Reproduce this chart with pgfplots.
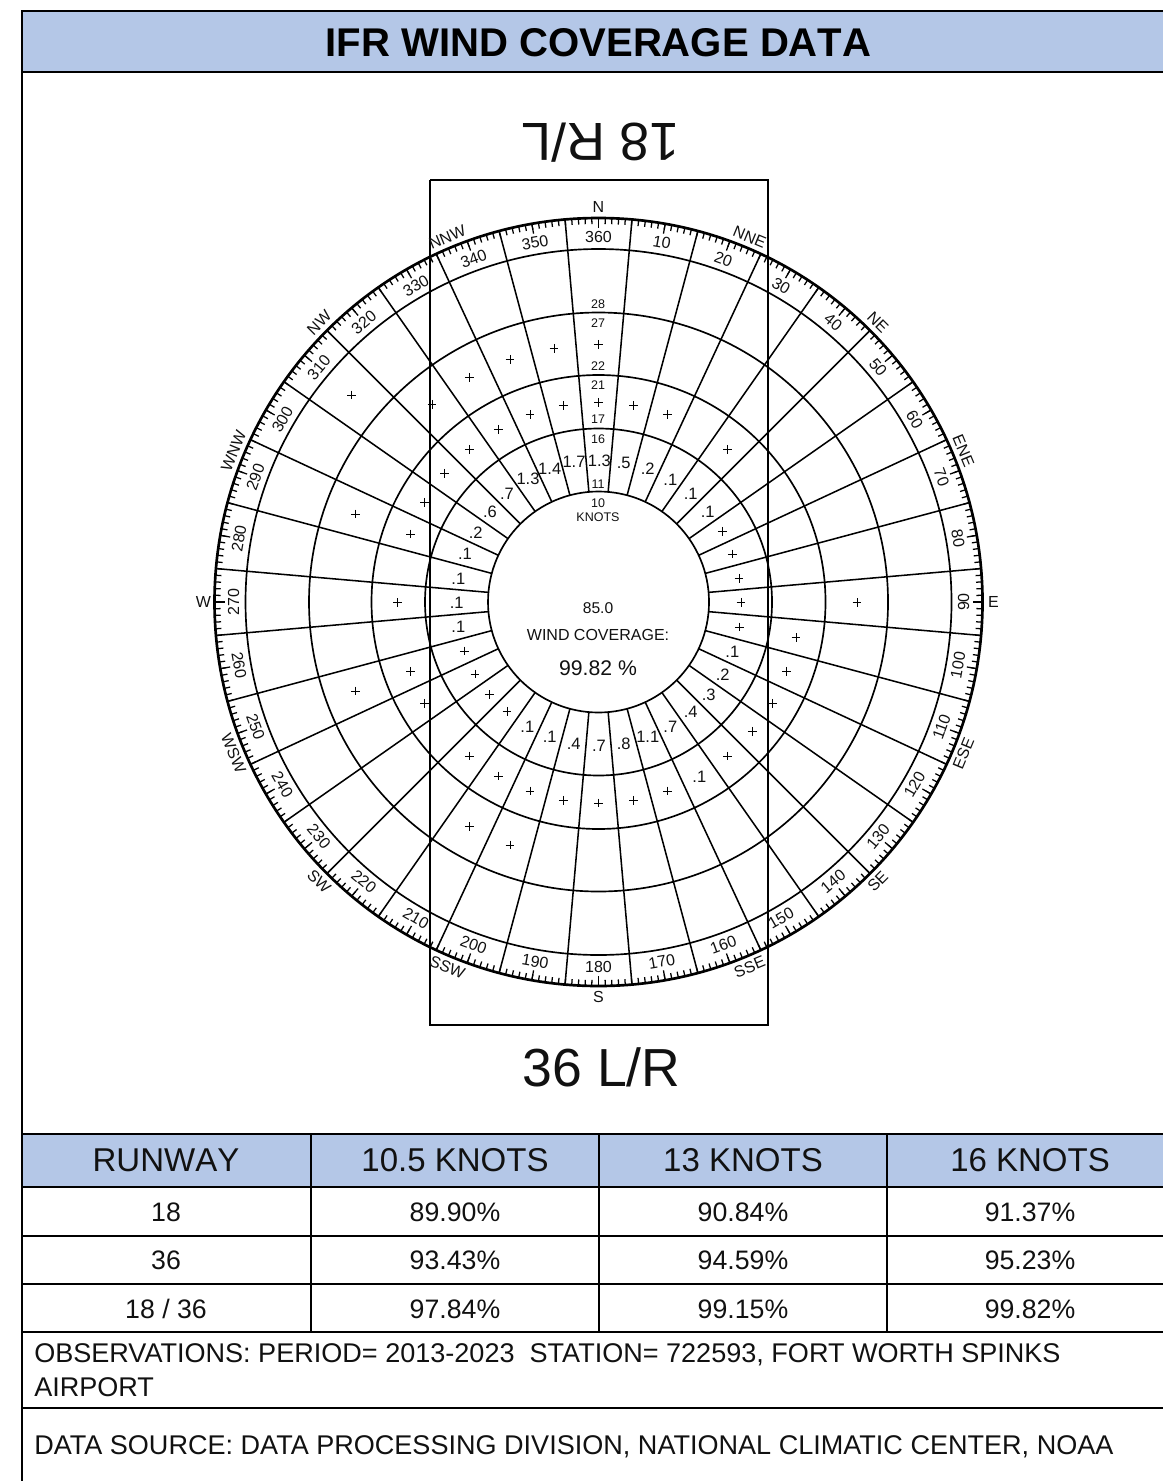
\documentclass[border=0pt]{standalone}
\usepackage{pgfplots}
\pgfplotsset{compat=1.18}
\usepackage{pgfplotstable}
\usepackage{fontspec}
\setmainfont{Liberation Sans}

\definecolor{hdr}{HTML}{B4C7E7}
\definecolor{ink}{HTML}{111111}

% 1 px of the picture = 0.75pt
\newcommand{\fs}[1]{\fontsize{\dimexpr#1pt*3/4\relax}{\dimexpr#1pt*9/10\relax}\selectfont}
\def\cx{598.5}
\def\cy{602}

% one spoke / tick between two radii at a bearing
\newcommand{\radial}[4][]{\draw[#1] (axis cs:{\cx+#3*sin(#2)},{\cy-#3*cos(#2)}) -- (axis cs:{\cx+#4*sin(#2)},{\cy-#4*cos(#2)});}
\newcommand{\dlabel}[2]{\node[rotate=#2,font=\fs{16},text=ink,inner sep=0pt] at (axis cs:{\cx+365*sin(#1)},{\cy-365*cos(#1)}) {#1};}
\newcommand{\comp}[3]{\node[rotate=#3,font=\fs{16},text=ink,inner sep=0pt] at (axis cs:{\cx+395*sin(#1)},{\cy-395*cos(#1)}) {#2};}
\newcommand{\txt}[4]{\node[font=\fs{#3},text=ink,inner sep=0pt,anchor=center] at (axis cs:#1,#2) {#4};}

% readings in the 11-16 knot band
\pgfplotstableread{
x y v
599.3 460.7 1.3
623.7 462.7 .5
647.7 468.7 .2
670.3 480.0 .1
690.7 494.0 .1
707.7 512.3 .1
574.0 462.3 1.7
549.7 468.7 1.4
528.0 479.3 1.3
507.0 494.0 .7
490.0 511.7 .6
475.7 532.3 .2
465.0 554.3 .1
458.3 579.0 .1
456.7 602.7 .1
458.3 627.3 .1
732.3 651.7 .1
722.7 674.7 .2
708.7 695.0 .3
690.7 711.7 .4
670.3 726.7 .7
647.7 736.7 1.1
623.7 744.0 .8
599.0 745.7 .7
573.7 744.0 .4
549.7 736.7 .1
527.3 726.7 .1
699.3 776.7 .1
}\readings

% cells holding a + (less than .05)
\pgfplotstableread{
x y
722.3 531.3
732.3 554.0
739.0 578.3
741.0 602.3
739.3 627.0
464.3 651.0
475.0 674.0
489.3 694.7
507.0 711.3
598.7 402.3
633.7 405.3
667.3 414.3
727.7 449.3
563.3 405.3
530.0 414.3
498.3 429.3
469.3 449.3
444.7 473.3
424.7 502.3
410.5 534.0
598.3 344.3
554.0 348.3
510.0 359.3
469.3 377.3
432.0 404.3
351.7 395.0
355.3 514.0
397.7 602.7
410.5 671.2
355.3 691.0
424.8 703.3
469.3 756.0
498.3 776.0
530.0 791.0
563.3 800.3
598.7 803.0
633.7 800.3
667.3 791.0
727.7 756.0
752.3 731.3
772.3 703.3
786.8 671.2
796.0 637.5
857.0 602.7
469.3 826.7
510.0 845.0
}\traces

\begin{document}
\begin{tikzpicture}
\begin{axis}[
    name=rose,
    scale only axis,
    width=872.25pt,
    height=1110.75pt,
    xmin=0, xmax=1163,
    ymin=0, ymax=1481,
    y dir=reverse,
    hide axis,
    clip=true,
]
    % title band and table header
    \addplot[draw=none, fill=hdr, forget plot] coordinates {(22,11) (1163,11) (1163,72) (22,72)} -- cycle;
    \addplot[draw=none, fill=hdr, forget plot] coordinates {(22,1134) (1163,1134) (1163,1187) (22,1187)} -- cycle;

    % frame
    \addplot[black, line width=1.5pt, forget plot] coordinates {(22,1481) (22,11) (1163,11)};
    \addplot[black, line width=1.3pt, forget plot] coordinates {(22,72) (1163,72)};
    \pgfplotsinvokeforeach{1134,1187,1236,1284,1332,1408}{
        \addplot[black, line width=1.3pt, forget plot] coordinates {(22,#1) (1163,#1)};
    }
    \pgfplotsinvokeforeach{311,599,887}{
        \addplot[black, line width=1.2pt, forget plot] coordinates {(#1,1134) (#1,1332)};
    }

    % runway box
    \addplot[black, line width=1.4pt, forget plot] coordinates {(430,180) (768,180) (768,1025) (430,1025) (430,180)};

    % speed rings
    \pgfplotsinvokeforeach{110.5,173.5,227,289.5,353}{
        \draw[black, line width=1.25pt] (axis cs:\cx,\cy) circle [radius=#1];
    }
    \draw[black, line width=2pt] (axis cs:\cx,\cy) circle [radius=384];

    % spokes between the sectors
    \pgfplotsinvokeforeach{5,15,...,355}{
        \radial[black, line width=1.15pt]{#1}{110.5}{384}
    }

    % compass degree ticks
    \pgfplotsinvokeforeach{0,...,359}{
        \radial[black, line width=.95pt]{#1}{384}{378}
    }
    \pgfplotsinvokeforeach{0,10,...,350}{
        \radial[black, line width=.95pt]{#1}{384}{374}
    }

    % degree labels
    \dlabel{10}{-10} \dlabel{20}{-20} \dlabel{30}{-30} \dlabel{40}{-40} \dlabel{50}{-50}
    \dlabel{60}{-60} \dlabel{70}{-70} \dlabel{80}{-80} \dlabel{90}{90} \dlabel{100}{80}
    \dlabel{110}{70} \dlabel{120}{60} \dlabel{130}{50} \dlabel{140}{40} \dlabel{150}{30}
    \dlabel{160}{20} \dlabel{170}{10} \dlabel{180}{0} \dlabel{190}{-10} \dlabel{200}{-20}
    \dlabel{210}{-30} \dlabel{220}{-40} \dlabel{230}{-50} \dlabel{240}{-60} \dlabel{250}{-70}
    \dlabel{260}{-80} \dlabel{270}{90} \dlabel{280}{80} \dlabel{290}{70} \dlabel{300}{60}
    \dlabel{310}{50} \dlabel{320}{40} \dlabel{330}{30} \dlabel{340}{20} \dlabel{350}{10}
    \dlabel{360}{0}

    % compass points
    \comp{0}{N}{0} \comp{22.5}{NNE}{-22.5} \comp{45}{NE}{-45} \comp{67.5}{ENE}{-67.5}
    \comp{90}{E}{0} \comp{112.5}{ESE}{67.5} \comp{135}{SE}{45} \comp{157.5}{SSE}{22.5}
    \comp{180}{S}{0} \comp{202.5}{SSW}{-22.5} \comp{225}{SW}{-45} \comp{247.5}{WSW}{-67.5}
    \comp{270}{W}{0} \comp{292.5}{WNW}{67.5} \comp{315}{NW}{45} \comp{337.5}{NNW}{22.5}

    % wind readings
    \addplot[only marks, mark=none, point meta=explicit symbolic, forget plot,
        nodes near coords,
        nodes near coords align={center},
        every node near coord/.append style={font=\fs{16.5}, text=ink, inner sep=0pt},
    ] table[x=x, y=y, meta=v] {\readings};
    \addplot[only marks, mark=+, mark size=3.3pt, black, line width=.65pt, forget plot]
        table[x=x, y=y] {\traces};

    % band limits along the north sector
    \txt{598}{304}{12.5}{28} \txt{598}{323}{12.5}{27}
    \txt{598}{365.7}{12.5}{22} \txt{598}{385}{12.5}{21}
    \txt{598}{419.3}{12.5}{17} \txt{598}{439}{12.5}{16}
    \txt{598}{484}{12.5}{11} \txt{598}{502.7}{12.5}{10}
    \txt{598}{516.7}{12.5}{KNOTS}

    % hub
    \txt{598}{608}{15.6}{85.0}
    \txt{598}{635}{16}{WIND COVERAGE:}
    \txt{598}{668}{21.2}{99.82 \%}

    % runway ends
    \node[font=\fs{53.6}\addfontfeature{Kerning=Off}, text=ink, rotate=180, inner sep=0pt] at (axis cs:600.5,143) {18 R/L};
    \node[font=\fs{53.6}\addfontfeature{Kerning=Off}, text=ink, inner sep=0pt] at (axis cs:601.5,1067) {36 L/R};

    % title
    \node[font=\fs{40.1}\bfseries\addfontfeature{Kerning=Off}, text=black, inner sep=0pt] at (axis cs:598.5,43) {IFR WIND COVERAGE DATA};

    % table
    \node[font=\fs{33}\addfontfeature{Kerning=Off}, text=ink, inner sep=0pt] at (axis cs:166,1160) {RUNWAY};
    \txt{455}{1160}{33}{10.5 KNOTS}
    \txt{743}{1160}{33}{13 KNOTS} \txt{1030}{1160}{33}{16 KNOTS}
    \txt{166}{1212}{26.7}{18} \txt{455}{1212}{26.7}{89.90\%}
    \txt{743}{1212}{26.7}{90.84\%} \txt{1030}{1212}{26.7}{91.37\%}
    \txt{166}{1260}{26.7}{36} \txt{455}{1260}{26.7}{93.43\%}
    \txt{743}{1260}{26.7}{94.59\%} \txt{1030}{1260}{26.7}{95.23\%}
    \txt{166}{1309}{26.7}{18 / 36} \txt{455}{1309}{26.7}{97.84\%}
    \txt{743}{1309}{26.7}{99.15\%} \txt{1030}{1309}{26.7}{99.82\%}

    % notes
    \node[font=\fs{27.05}, text=ink, inner sep=0pt, anchor=west] at (axis cs:34,1355) {OBSERVATIONS: PERIOD= 2013-2023\ \ STATION= 722593, FORT WORTH SPINKS};
    \node[font=\fs{27.05}, text=ink, inner sep=0pt, anchor=west] at (axis cs:34,1387.5) {AIRPORT};
    \node[font=\fs{27.05}, text=ink, inner sep=0pt, anchor=west] at (axis cs:34,1447) {DATA SOURCE: DATA PROCESSING DIVISION, NATIONAL CLIMATIC CENTER, NOAA};
\end{axis}
\pgfresetboundingbox
\useasboundingbox (rose.south west) rectangle (rose.north east);
\end{tikzpicture}
\end{document}
